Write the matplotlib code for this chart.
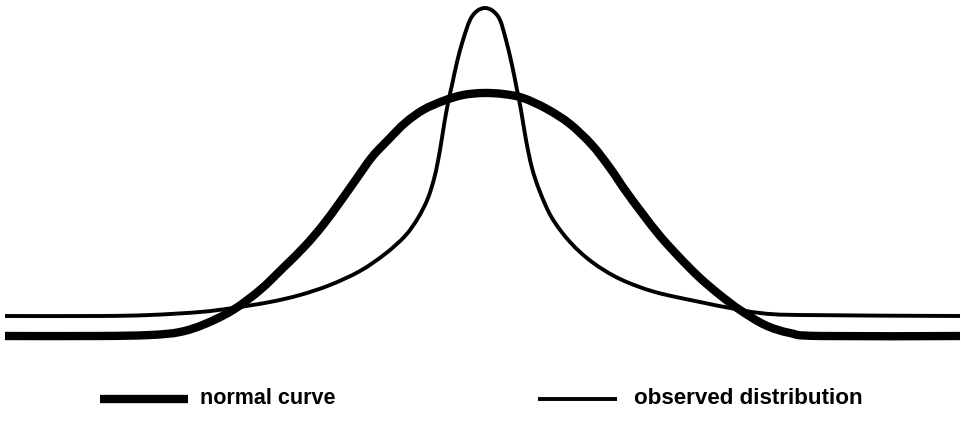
import matplotlib.pyplot as plt
from matplotlib.path import Path
from matplotlib.patches import PathPatch

# traced curves, in picture pixel units (x right, y down)
normal_x = [5, 100, 150, 180, 205, 233, 260, 283, 305, 323, 340, 357, 372, 388,
            405, 423, 443, 463, 483, 503, 523, 547, 570, 592, 610, 625, 642,
            660, 680, 700, 720, 740, 765, 790, 820, 960]
normal_y = [336, 336, 335, 332, 324, 310, 290, 268, 246, 225, 202, 178, 157, 140,
            123, 110, 101, 95, 93, 94, 98, 109, 124, 145, 168, 190, 213,
            236, 258, 278, 295, 310, 325, 333, 336, 336]

observed_x = [5, 100, 150, 200, 233, 270, 300, 330, 360, 385, 405, 418, 428,
              435, 440, 444, 448, 452, 457, 463, 470, 477, 485, 493, 500, 506,
              512, 517, 521, 526, 532, 540, 552, 570, 592, 620, 655, 700, 730,
              760, 800, 960]
observed_y = [316, 316, 315, 312, 308, 302, 295, 285, 271, 254, 236, 218, 198,
              175, 150, 125, 103, 85, 62, 40, 20, 11, 8, 11, 20, 40,
              65, 90, 110, 140, 168, 192, 218, 242, 262, 279, 292, 302, 308,
              313, 315, 316]

labels = ["normal curve", "observed distribution"]


def smooth_path(xs, ys):
    # catmull-rom through the traced points, as bezier segments
    pts = list(zip(xs, ys))
    verts = [pts[0]]
    codes = [Path.MOVETO]
    n = len(pts)
    for i in range(n - 1):
        p0 = pts[max(i - 1, 0)]
        p1 = pts[i]
        p2 = pts[i + 1]
        p3 = pts[min(i + 2, n - 1)]
        c1 = (p1[0] + (p2[0] - p0[0]) / 6, p1[1] + (p2[1] - p0[1]) / 6)
        c2 = (p2[0] - (p3[0] - p1[0]) / 6, p2[1] - (p3[1] - p1[1]) / 6)
        verts += [c1, c2, p2]
        codes += [Path.CURVE4] * 3
    return Path(verts, codes)


fig = plt.figure(figsize=(9.62, 4.21), dpi=100)
ax = fig.add_axes([0, 0, 1, 1])
ax.set_xlim(0, 962)
ax.set_ylim(421, 0)
ax.axis('off')

ax.add_patch(PathPatch(smooth_path(normal_x, normal_y), fill=False,
                       edgecolor='black', lw=6, capstyle='butt'))
ax.add_patch(PathPatch(smooth_path(observed_x, observed_y), fill=False,
                       edgecolor='black', lw=2.8, capstyle='butt'))

# legend
font = ['Liberation Sans', 'DejaVu Sans']
ax.plot([100, 188], [399, 399], color='black', lw=6, solid_capstyle='butt')
ax.text(200, 399, labels[0], fontsize=15.5, fontweight='bold', va='center', family=font)
ax.plot([538, 617], [399, 399], color='black', lw=2.8, solid_capstyle='butt')
ax.text(634, 398, labels[1], fontsize=16.1, fontweight='bold', va='center', family=font)

fig.savefig('out.png', dpi=100)
